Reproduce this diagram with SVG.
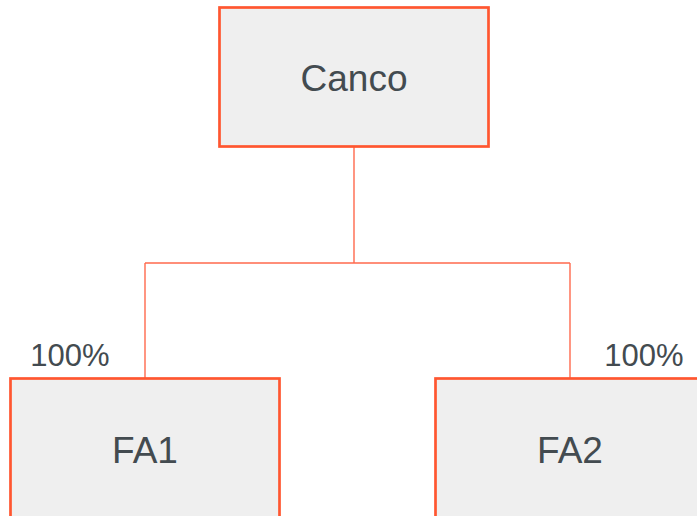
<svg xmlns="http://www.w3.org/2000/svg" width="697" height="516" viewBox="0 0 697 516">
<style>
.box{fill:#efefef;stroke:#ff5630;stroke-width:2.7}
.lbl{font-family:"Liberation Sans",Arial,sans-serif;font-size:37px;fill:#434b50;text-anchor:middle}
.pct{font-family:"Liberation Sans",Arial,sans-serif;font-size:31px;fill:#434b50;text-anchor:middle}
.conn{fill:none;stroke:#ff6a4d;stroke-width:1.4}
</style>
<rect width="697" height="516" fill="#ffffff"/>
<g id="connectors">
<path class="conn" d="M354 147 V263 M145 263 H570 M145 263 V378 M570 263 V378"/>
</g>
<g id="canco">
<rect class="box" x="219.5" y="7.5" width="269" height="139"/>
<text class="lbl" x="354" y="91">Canco</text>
</g>
<g id="fa1">
<rect class="box" x="10.5" y="378.5" width="269" height="150"/>
<text class="lbl" x="145" y="463">FA1</text>
<text class="pct" x="70" y="366">100%</text>
</g>
<g id="fa2">
<rect class="box" x="435.5" y="378.5" width="280" height="150"/>
<text class="lbl" x="570" y="463">FA2</text>
<text class="pct" x="644" y="366">100%</text>
</g>
</svg>
